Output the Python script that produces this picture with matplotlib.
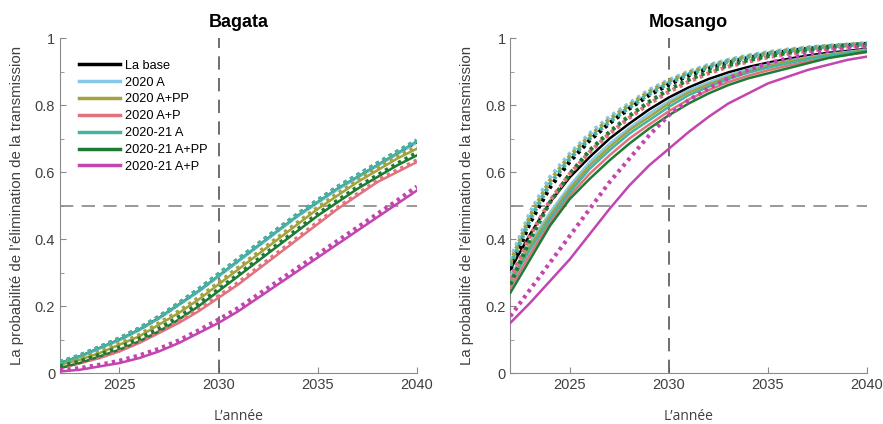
import matplotlib
matplotlib.use('Agg')
import matplotlib.pyplot as plt
from matplotlib.ticker import MultipleLocator

plt.rcParams['font.family'] = ['Liberation Sans', 'DejaVu Sans']

years = list(range(2022, 2041))

scenarios = ['La base', '2020 A', '2020 A+PP', '2020 A+P',
             '2020-21 A', '2020-21 A+PP', '2020-21 A+P']
colors = ['#000000', '#86c8e8', '#a4a23c', '#e2727e',
          '#45b3a0', '#1e7b34', '#c245b0']

# Bagata, solid lines
bag_solid = [
    [0.030, 0.050, 0.075, 0.100, 0.130, 0.165, 0.205, 0.245, 0.290, 0.335,
     0.380, 0.425, 0.470, 0.510, 0.550, 0.585, 0.620, 0.655, 0.690],
    [0.028, 0.048, 0.073, 0.098, 0.128, 0.163, 0.203, 0.243, 0.288, 0.333,
     0.378, 0.423, 0.468, 0.508, 0.548, 0.583, 0.618, 0.653, 0.688],
    [0.025, 0.040, 0.060, 0.085, 0.110, 0.145, 0.180, 0.220, 0.265, 0.310,
     0.355, 0.400, 0.445, 0.490, 0.530, 0.570, 0.605, 0.640, 0.670],
    [0.015, 0.030, 0.045, 0.065, 0.090, 0.120, 0.150, 0.185, 0.225, 0.265,
     0.310, 0.355, 0.400, 0.445, 0.490, 0.530, 0.570, 0.600, 0.630],
    [0.030, 0.050, 0.075, 0.100, 0.130, 0.165, 0.205, 0.246, 0.291, 0.336,
     0.381, 0.426, 0.471, 0.511, 0.551, 0.586, 0.621, 0.656, 0.692],
    [0.015, 0.030, 0.050, 0.070, 0.095, 0.125, 0.160, 0.200, 0.245, 0.290,
     0.335, 0.380, 0.425, 0.470, 0.510, 0.550, 0.585, 0.620, 0.650],
    [0.005, 0.010, 0.020, 0.030, 0.045, 0.065, 0.090, 0.120, 0.150, 0.185,
     0.225, 0.265, 0.305, 0.345, 0.385, 0.425, 0.465, 0.505, 0.545],
]

# Bagata, dotted lines
bag_dotted = [
    [0.032, 0.052, 0.077, 0.103, 0.133, 0.168, 0.208, 0.250, 0.295, 0.340,
     0.385, 0.430, 0.474, 0.515, 0.555, 0.590, 0.625, 0.660, 0.692],
    [0.032, 0.052, 0.077, 0.103, 0.133, 0.168, 0.208, 0.250, 0.295, 0.340,
     0.385, 0.430, 0.474, 0.515, 0.555, 0.590, 0.625, 0.660, 0.694],
    [0.027, 0.043, 0.063, 0.088, 0.114, 0.149, 0.185, 0.225, 0.270, 0.315,
     0.360, 0.405, 0.450, 0.494, 0.535, 0.574, 0.610, 0.645, 0.675],
    [0.017, 0.032, 0.048, 0.068, 0.094, 0.124, 0.155, 0.190, 0.230, 0.270,
     0.315, 0.360, 0.405, 0.450, 0.494, 0.534, 0.574, 0.605, 0.635],
    [0.033, 0.053, 0.078, 0.104, 0.134, 0.169, 0.209, 0.251, 0.296, 0.341,
     0.386, 0.431, 0.475, 0.516, 0.556, 0.591, 0.626, 0.661, 0.695],
    [0.020, 0.035, 0.055, 0.077, 0.103, 0.133, 0.168, 0.207, 0.250, 0.295,
     0.340, 0.385, 0.430, 0.475, 0.515, 0.555, 0.590, 0.625, 0.657],
    [0.008, 0.015, 0.025, 0.037, 0.053, 0.073, 0.098, 0.128, 0.160, 0.195,
     0.235, 0.275, 0.315, 0.355, 0.395, 0.435, 0.475, 0.515, 0.557],
]

# Mosango, solid lines
mos_solid = [
    [0.310, 0.415, 0.510, 0.585, 0.645, 0.700, 0.745, 0.787, 0.823, 0.853,
     0.878, 0.898, 0.914, 0.927, 0.938, 0.948, 0.956, 0.962, 0.968],
    [0.290, 0.390, 0.480, 0.560, 0.630, 0.685, 0.732, 0.775, 0.812, 0.845,
     0.868, 0.890, 0.907, 0.921, 0.933, 0.943, 0.952, 0.959, 0.966],
    [0.280, 0.380, 0.470, 0.550, 0.620, 0.675, 0.725, 0.765, 0.805, 0.838,
     0.862, 0.884, 0.902, 0.917, 0.930, 0.940, 0.950, 0.957, 0.964],
    [0.255, 0.355, 0.450, 0.530, 0.595, 0.650, 0.700, 0.742, 0.782, 0.817,
     0.845, 0.869, 0.888, 0.904, 0.918, 0.930, 0.942, 0.950, 0.958],
    [0.270, 0.370, 0.460, 0.540, 0.610, 0.665, 0.715, 0.755, 0.795, 0.830,
     0.855, 0.878, 0.897, 0.912, 0.925, 0.937, 0.947, 0.955, 0.962],
    [0.240, 0.340, 0.440, 0.520, 0.580, 0.635, 0.685, 0.730, 0.770, 0.805,
     0.835, 0.860, 0.880, 0.895, 0.910, 0.925, 0.940, 0.950, 0.960],
    [0.150, 0.210, 0.275, 0.340, 0.415, 0.490, 0.560, 0.620, 0.670, 0.720,
     0.765, 0.805, 0.835, 0.865, 0.885, 0.905, 0.920, 0.935, 0.945],
]

# Mosango, dotted lines
mos_dotted = [
    [0.310, 0.450, 0.555, 0.632, 0.695, 0.746, 0.790, 0.830, 0.862, 0.889,
     0.910, 0.927, 0.941, 0.952, 0.961, 0.968, 0.974, 0.979, 0.983],
    [0.340, 0.480, 0.585, 0.655, 0.715, 0.765, 0.805, 0.845, 0.875, 0.900,
     0.920, 0.935, 0.948, 0.958, 0.966, 0.972, 0.977, 0.981, 0.985],
    [0.330, 0.470, 0.575, 0.648, 0.708, 0.758, 0.800, 0.840, 0.872, 0.897,
     0.917, 0.933, 0.946, 0.956, 0.964, 0.971, 0.976, 0.980, 0.984],
    [0.280, 0.410, 0.515, 0.595, 0.660, 0.715, 0.762, 0.804, 0.840, 0.870,
     0.895, 0.915, 0.930, 0.943, 0.953, 0.962, 0.969, 0.975, 0.979],
    [0.320, 0.460, 0.565, 0.640, 0.700, 0.750, 0.793, 0.833, 0.866, 0.892,
     0.913, 0.930, 0.943, 0.954, 0.962, 0.969, 0.975, 0.979, 0.983],
    [0.265, 0.400, 0.510, 0.595, 0.665, 0.720, 0.768, 0.810, 0.847, 0.876,
     0.900, 0.919, 0.934, 0.946, 0.956, 0.964, 0.971, 0.976, 0.980],
    [0.170, 0.250, 0.330, 0.410, 0.490, 0.570, 0.640, 0.710, 0.770, 0.815,
     0.850, 0.880, 0.905, 0.925, 0.940, 0.952, 0.962, 0.970, 0.975],
]

ylabel = 'La probabilité de l’élimination de la transmission'
spine_col = '#8a8a8a'
text_col = '#404040'

fig = plt.figure(figsize=(8.83, 4.24), dpi=100)
ax1 = fig.add_axes([0.068, 0.12, 0.404, 0.79])
ax2 = fig.add_axes([0.578, 0.12, 0.404, 0.79])

panels = [(ax1, 'Bagata', bag_solid, bag_dotted),
          (ax2, 'Mosango', mos_solid, mos_dotted)]

for ax, title, solid, dotted in panels:
    for name, col, ys in zip(scenarios, colors, solid):
        ax.plot(years, ys, color=col, lw=1.8, label=name, zorder=3)
    for col, ys in zip(colors, dotted):
        ax.plot(years, ys, color=col, lw=3.0, ls=(0, (0.8, 1.0)), zorder=4)

    ax.axvline(2030, color='#555555', lw=1.2, ls=(0, (8, 5)), zorder=2)
    ax.axhline(0.5, color='#888888', lw=1.2, ls=(0, (8, 5)), zorder=2)

    ax.set_xlim(2022, 2040)
    ax.set_ylim(0, 1)
    ax.set_xticks([2025, 2030, 2035, 2040])
    ax.set_yticks([0, 0.2, 0.4, 0.6, 0.8, 1])
    ax.set_yticklabels(['0', '0.2', '0.4', '0.6', '0.8', '1'])
    ax.yaxis.set_minor_locator(MultipleLocator(0.1))
    ax.tick_params(direction='in', length=4, color=spine_col,
                   labelcolor=text_col, labelsize=10.5)
    ax.tick_params(which='minor', direction='in', length=3, color=spine_col)
    for s in ['top', 'right']:
        ax.spines[s].set_visible(False)
    for s in ['left', 'bottom']:
        ax.spines[s].set_color(spine_col)

    ax.set_title(title, fontsize=13, fontweight='bold', pad=8)
    ax.set_ylabel(ylabel, fontsize=10.8, color=text_col, labelpad=8)
    ax.set_xlabel('L’année', fontsize=10, color=text_col, labelpad=12,
                  family=['Open Sans', 'DejaVu Sans'])

leg = ax1.legend(loc='upper left', bbox_to_anchor=(0.02, 0.97),
                 frameon=False, fontsize=9.2, handlelength=3.2,
                 labelspacing=0.38, handletextpad=0.4)
for h in leg.get_lines():
    h.set_linewidth(2.5)

fig.savefig('out.png', dpi=100)
